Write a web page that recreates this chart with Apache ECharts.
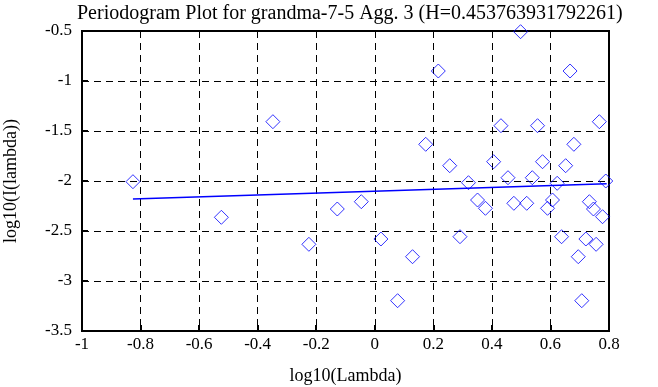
<!DOCTYPE html>
<html><head><meta charset="utf-8">
<script src="https://cdn.jsdelivr.net/npm/echarts@6/dist/echarts.min.js"></script>
<style>html,body{margin:0;padding:0;background:#fff}#c{width:658px;height:387px}</style>
</head><body><div id="c"></div>
<script>
var titleText = 'Periodogram Plot for grandma-7-5 Agg. 3 (H=0.453763931792261)';
var xName = 'log10(Lambda)';
var yName = 'log10(I(lambda))';
var logLambda = [-0.826, -0.524, -0.348, -0.225, -0.128, -0.046, 0.021, 0.078, 0.129, 0.174,
  0.217, 0.256, 0.291, 0.320, 0.351, 0.378, 0.406, 0.431, 0.455, 0.475,
  0.498, 0.519, 0.538, 0.556, 0.573, 0.590, 0.607, 0.623, 0.638, 0.652,
  0.667, 0.680, 0.695, 0.707, 0.721, 0.733, 0.747, 0.756, 0.767, 0.778, 0.789];
var logI = [-2.007, -2.363, -1.407, -2.633, -2.28, -2.207, -2.58, -3.197, -2.757, -1.633,
  -0.90, -1.847, -2.557, -2.017, -2.19, -2.273, -1.807, -1.447, -1.967, -2.223,
  -0.507, -2.223, -1.967, -1.447, -1.807, -2.273, -2.19, -2.023, -2.557, -1.847,
  -0.90, -1.633, -2.757, -3.197, -2.58, -2.207, -2.28, -2.633, -1.407, -2.357, -2.00];
var fitX = [-0.826, 0.792];
var fitY = [-2.18, -2.027];

var pts = logLambda.map(function(x, i){ return [x, logI[i]]; });
var fit = fitX.map(function(x, i){ return [x, fitY[i]]; });
var serif = '"Liberation Serif", "Times New Roman", serif';
var chart = echarts.init(document.getElementById('c'), null, {renderer:'canvas'});
function axisCommon(){
  return {
    axisLine:{show:true, onZero:false, lineStyle:{color:'#000', width:2}},
    axisTick:{show:true, inside:true, length:6, lineStyle:{color:'#000', width:2}},
    splitLine:{show:true, lineStyle:{color:'#000', width:1, type:[7,5]}},
    axisLabel:{color:'#000', fontFamily:serif, fontSize:17}
  };
}
var xa = axisCommon();
Object.assign(xa, {type:'value', min:-1, max:0.8, interval:0.2,
  name:xName, nameLocation:'middle', nameGap:36, nameMoveOverlap:false,
  nameTextStyle:{color:'#000', fontFamily:serif, fontSize:18}});
xa.axisLabel.margin = 5;
var ya = axisCommon();
Object.assign(ya, {type:'value', min:-3.5, max:-0.5, interval:0.5,
  name:yName, nameLocation:'middle', nameGap:62, nameRotate:90, nameMoveOverlap:false,
  nameTextStyle:{color:'#000', fontFamily:serif, fontSize:18}});
ya.axisLabel.margin = 10;
chart.setOption({
  animation:false,
  backgroundColor:'#fff',
  title:{text:titleText, left:72, top:-1,
    textStyle:{color:'#000', fontFamily:serif, fontSize:20, fontWeight:'normal'}},
  grid:{left:82, right:49, top:31, bottom:56, containLabel:false, outerBoundsMode:'none',
    show:true, borderColor:'#000', borderWidth:2, backgroundColor:'transparent'},
  xAxis:xa,
  yAxis:ya,
  series:[
    {type:'scatter', data:pts, symbol:'diamond', symbolSize:[14,14],
      itemStyle:{color:'rgba(0,0,0,0)', borderColor:'#0000ff', borderWidth:1}, z:3},
    {type:'line', data:fit, showSymbol:false, symbol:'none',
      lineStyle:{color:'#0000ff', width:1.5}, z:4}
  ]
});
</script></body></html>
